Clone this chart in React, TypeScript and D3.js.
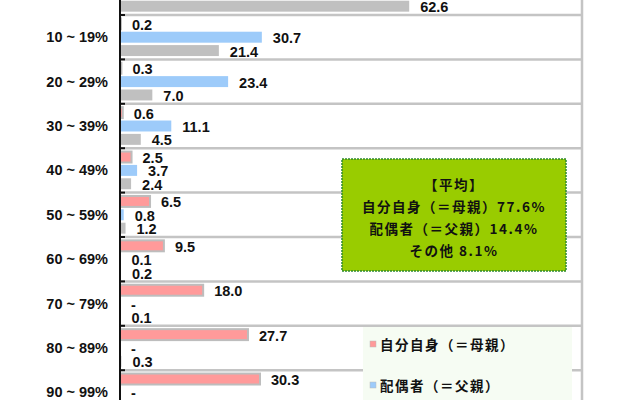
import React from 'react';
import * as d3 from 'd3';

// share of household work by person, per percentage bucket
const categories = ['0 ~ 9%', '10 ~ 19%', '20 ~ 29%', '30 ~ 39%', '40 ~ 49%', '50 ~ 59%', '60 ~ 69%', '70 ~ 79%', '80 ~ 89%', '90 ~ 99%'];
const seriesNames = ['自分自身（＝母親）', '配偶者（＝父親）', 'その他'];
const selfValues = [0, 0.2, 0.3, 0.6, 2.5, 6.5, 9.5, 18.0, 27.7, 30.3];
const spouseValues = [30.2, 30.7, 23.4, 11.1, 3.7, 0.8, 0.1, 0, 0, 0];
const otherValues = [62.6, 21.4, 7.0, 4.5, 2.4, 1.2, 0.2, 0.1, 0.3, 0.3];
const averageLines = ['【平均】', '自分自身（＝母親）77.6%', '配偶者（＝父親）14.4%', 'その他 8.1%'];
const colors = ['#ff9a9a', '#9dcbfa', '#c0c0c0'];

const W = 640;
const H = 400;
const font = '"Liberation Sans", Arial, sans-serif';
const jpFont = '"Noto Sans CJK JP", sans-serif';

export default function App() {
  const series = [selfValues, spouseValues, otherValues];
  const x = d3.scaleLinear().domain([0, 100]).range([120, 582]);
  const y = d3.scaleBand<string>().domain(categories).range([-29.4, 414.6]);
  const inner = d3.scaleBand<number>().domain([0, 1, 2]).range([0, y.bandwidth()])
    .paddingInner(0.18).paddingOuter(0.25);
  const bounds = categories.slice(1).map(c => y(c)!);

  return (
    <div style={{ position: 'fixed', left: 0, top: 0 }}>
      <svg width={W} height={H} style={{ display: 'block', background: '#fff' }}>
        {/* row separators */}
        {bounds.map((b, i) => (
          <line key={'g' + i} x1={x(0)} x2={x(100)} y1={b} y2={b} stroke="#c4c4c4" strokeWidth={2.5} />
        ))}
        <line x1={x(100)} x2={x(100)} y1={0} y2={H} stroke="#c4c4c4" strokeWidth={2.5} />

        {/* bars */}
        {categories.map((c, ci) => series.map((vals, si) => {
          const v = vals[ci];
          const by = y(c)! + inner(si)!;
          const bh = inner.bandwidth();
          return (
            <g key={c + si}>
              {v > 0 && (
                <rect x={x(0)} y={by} width={x(v) - x(0)} height={bh} fill={colors[si]}
                  stroke={si === 0 ? '#bdbdbd' : 'none'} strokeWidth={si === 0 ? 2 : 0} />
              )}
              <text x={x(v) + 11} y={by + bh / 2 + 1} dominantBaseline="central" fontFamily={font}
                fontSize={14.5} fontWeight="bold" fill="#111">
                {v > 0 ? v.toFixed(1) : '-'}
              </text>
            </g>
          );
        }))}

        {/* axis */}
        <line x1={x(0)} x2={x(0)} y1={0} y2={H} stroke="#111" strokeWidth={2} />
        {bounds.map((b, i) => (
          <line key={'t' + i} x1={x(0) - 1} x2={x(0) + 5} y1={b} y2={b} stroke="#111" strokeWidth={2} />
        ))}
        {categories.map(c => (
          <text key={'l' + c} x={108} y={y(c)! + y.bandwidth() / 2} textAnchor="end" dominantBaseline="central"
            fontFamily={font} fontSize={14.5} fontWeight="bold" fill="#111">{c}</text>
        ))}

        {/* average box */}
        <rect x={342} y={159} width={224} height={112} fill="#99cc00" stroke="#2e8b2e" strokeWidth={1.5} strokeDasharray="2,1" />
        {averageLines.map((t, i) => (
          <text key={'a' + i} x={454} y={184 + i * 22} textAnchor="middle" dominantBaseline="central"
            fontFamily={jpFont} fontSize={13.5} fontWeight="bold" letterSpacing={1.5} fill="#111">{t}</text>
        ))}

        {/* legend */}
        <rect x={363} y={327} width={209} height={120} fill="#f6fcf3" />
        {seriesNames.map((n, i) => (
          <g key={'lg' + i} transform={`translate(370,${344 + i * 41})`}>
            <rect x={0} y={-3} width={6} height={6} fill={colors[i]} stroke="#bbb" strokeWidth={0.5} />
            <text x={10} y={0} dominantBaseline="central" fontFamily={jpFont} fontSize={13.5} fontWeight="bold"
              letterSpacing={1.5} fill="#111">{n}</text>
          </g>
        ))}
      </svg>
    </div>
  );
}
